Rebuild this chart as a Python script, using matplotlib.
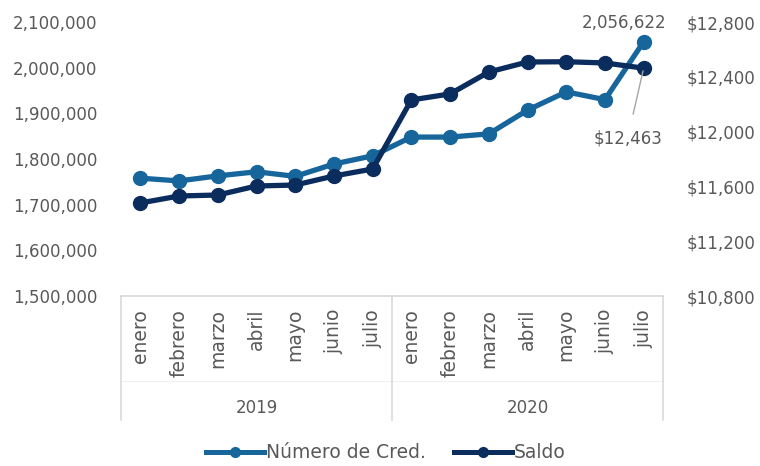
import matplotlib
matplotlib.use("Agg")
import matplotlib.pyplot as plt
from matplotlib.lines import Line2D
from matplotlib.ticker import FuncFormatter

months = ["enero", "febrero", "marzo", "abril", "mayo", "junio", "julio"]
years = ["2019", "2020"]
creditos = [1758000, 1752000, 1763000, 1772000, 1762000, 1789000, 1807000,
            1848000, 1848000, 1855000, 1907000, 1947000, 1930000, 2056622]
saldo = [11479, 11530, 11537, 11603, 11610, 11676, 11727,
         12231, 12275, 12435, 12508, 12510, 12501, 12463]

c_light = "#17669B"
c_dark = "#0B2D5E"
c_text = "#595959"
c_line = "#D9D9D9"

plt.rcParams['font.family'] = ['DejaVu Sans']

fig = plt.figure(figsize=(7.6, 4.66), dpi=100)
W, H = 760, 466
ax = fig.add_axes([121 / W, 1 - 296 / H, (663 - 121) / W, (296 - 22) / H])
ax2 = ax.twinx()

x = list(range(len(creditos)))
ax.plot(x, creditos, color=c_light, lw=3.8, marker='o', ms=10, zorder=3)
ax2.plot(x, saldo, color=c_dark, lw=3.8, marker='o', ms=10, zorder=3)

ax.set_xlim(-0.5, len(x) - 0.5)
ax.set_ylim(1500000, 2100000)
ax.set_yticks(range(1500000, 2100001, 100000))
ax.yaxis.set_major_formatter(FuncFormatter(lambda v, p: f"{int(v):,}"))
ax2.set_ylim(10800, 12800)
ax2.set_yticks(range(10800, 12801, 400))
ax2.yaxis.set_major_formatter(FuncFormatter(lambda v, p: f"${int(v):,}"))

for a in (ax, ax2):
    for s in a.spines.values():
        s.set_visible(False)
    a.tick_params(axis='both', length=0, labelsize=12, colors=c_text)
ax.tick_params(axis='y', pad=17)
ax2.tick_params(axis='y', pad=17)
ax.set_xticks([])

# data labels
ax.annotate(f"{creditos[-1]:,}", xy=(x[-1], creditos[-1]), xytext=(-20, 19),
            textcoords='offset pixels', ha='center', va='center',
            fontsize=12, color=c_text)
ax2.annotate(f"${saldo[-1]:,}", xy=(x[-1], saldo[-1]), xytext=(-16, -70),
             textcoords='offset pixels', ha='center', va='center',
             fontsize=12, color=c_text,
             arrowprops=dict(arrowstyle='-', color='#A6A6A6', lw=1,
                             shrinkA=9, shrinkB=2))

# category axis (multi-level)
tr = ax.get_xaxis_transform()
def ypix(py):
    return (296 - py) / (296 - 22)

ax.plot([-0.5, len(x) - 0.5], [0, 0], transform=tr, color=c_line, lw=1.2, clip_on=False)
ax.plot([-0.5, len(x) - 0.5], [ypix(381), ypix(381)], transform=tr, color="#F0F0F0",
        lw=0.8, clip_on=False)
n = len(months)
for xb in [-0.5, n - 0.5, 2 * n - 0.5]:
    ax.plot([xb, xb], [0, ypix(420)], transform=tr, color=c_line, lw=1.2, clip_on=False)
for gi, yr in enumerate(years):
    for mi, m in enumerate(months):
        ax.text(gi * n + mi, ypix(309), m, transform=tr, rotation=90,
                ha='center', va='top', fontsize=13.5, color=c_text)
    ax.text(gi * n + (n - 1) / 2, ypix(408), yr, transform=tr,
            ha='center', va='center', fontsize=12, color=c_text)

# legend
handles = [Line2D([0], [0], color=c_light, lw=3.6, marker='o', ms=7),
           Line2D([0], [0], color=c_dark, lw=3.6, marker='o', ms=7)]
fig.legend(handles, ["Número de Cred.", "Saldo"], loc='center',
           bbox_to_anchor=(386 / W, 1 - 453 / H), ncol=2, frameon=False,
           fontsize=13.5, labelcolor=c_text, handlelength=3.1,
           handletextpad=0.1, columnspacing=1.5)

fig.savefig("out.png", dpi=100)
